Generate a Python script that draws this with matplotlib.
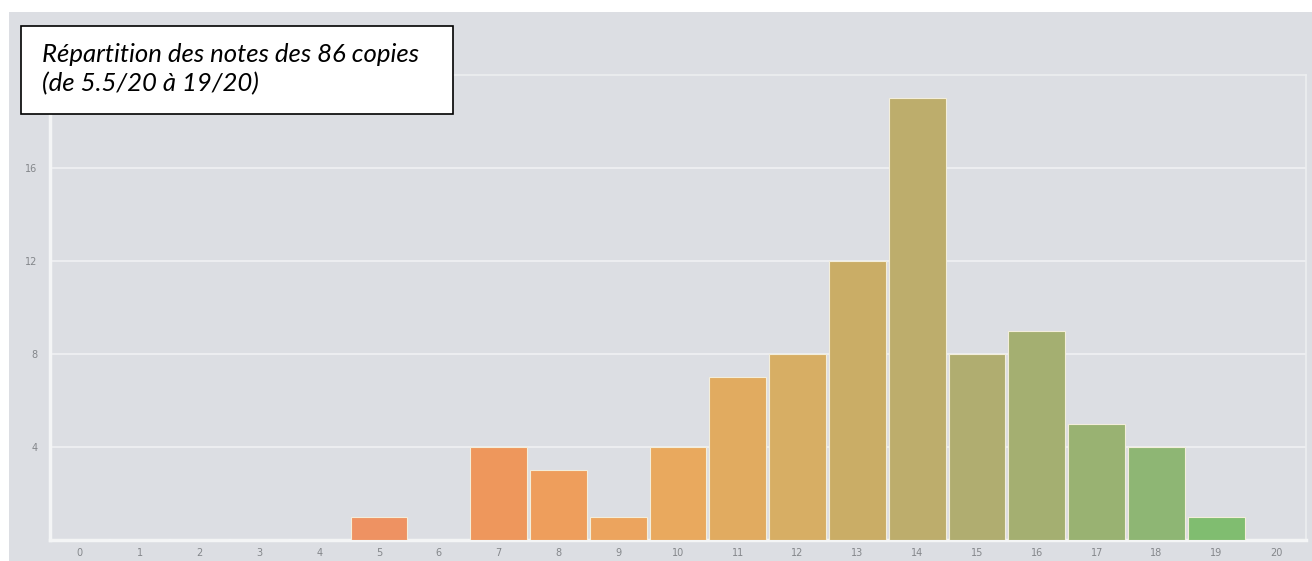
import matplotlib.pyplot as plt
from matplotlib.patches import Rectangle

# Notes (0..20) et nombre de copies par note
notes = list(range(21))
counts = [0, 0, 0, 0, 0, 1, 0, 4, 3, 1, 4, 7, 8, 12, 19, 8, 9, 5, 4, 1, 0]
bar_colors = ['#ee9262', '#ee9262', '#ee9262', '#ee9262', '#ee9262',
              '#ee9262', '#ee955c', '#ee975c', '#ee9e5c', '#eca45e',
              '#e9a95e', '#e1ab60', '#d7ae64', '#caad66', '#bdad6c',
              '#b0ad70', '#a4af71', '#99b272', '#8eb674', '#80bd70', '#80bd70']
yticks = [4, 8, 12, 16]
title_text = "Répartition des notes des 86 copies\n(de 5.5/20 à 19/20)"

bg = '#dcdee3'
W, H = 1312, 561

fig = plt.figure(figsize=(W / 100, H / 100), dpi=100, facecolor='white')
# grey panel behind the chart
fig.patches.append(Rectangle((9 / W, 0), 1 - 9 / W, 1 - 12 / H,
                             transform=fig.transFigure, facecolor=bg,
                             edgecolor='none', zorder=-10))

ax = fig.add_axes([50 / W, (H - 540) / H, (1306 - 50) / W, (540 - 75) / H])
ax.set_facecolor(bg)

ax.bar(notes, counts, width=0.95, color=bar_colors,
       edgecolor='#f3eedb', linewidth=0.8, zorder=3)

ax.set_xlim(-0.5, 20.5)
ax.set_ylim(0, 20)
ax.set_xticks(notes)
ax.set_yticks(yticks)
ax.tick_params(axis='both', length=0, labelsize=7, labelcolor='#83868a', pad=6)
ax.tick_params(axis='y', pad=9)
ax.grid(axis='y', color='#f0f1f3', linewidth=1.2, zorder=1)

for side in ['left', 'bottom']:
    ax.spines[side].set_color('#f4f5f6')
    ax.spines[side].set_linewidth(2.5)
for side in ['top', 'right']:
    ax.spines[side].set_color('#eceef0')
    ax.spines[side].set_linewidth(1.2)

# boxed title in the top-left corner
fig.patches.append(Rectangle((21 / W, (H - 114) / H), (453 - 21) / W, (114 - 26) / H,
                             transform=fig.transFigure, facecolor='white',
                             edgecolor='black', linewidth=1.2, zorder=5))
fig.text(42 / W, (H - 43) / H, title_text, fontsize=18.5, style='italic',
         family=['Lato', 'DejaVu Sans'], va='top', ha='left',
         linespacing=1.3, zorder=6)

fig.savefig('out.png', dpi=100, facecolor='white')
